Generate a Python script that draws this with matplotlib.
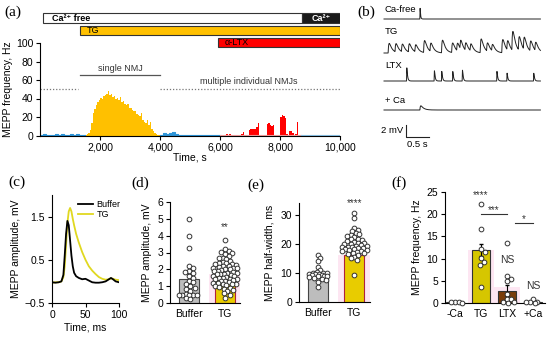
import numpy as np
import matplotlib
matplotlib.use("Agg")
import matplotlib.pyplot as plt

plt.rcParams["font.family"] = ["Liberation Sans", "DejaVu Sans"]
plt.rcParams["axes.linewidth"] = 0.8

# ---------- data ----------
# (a) MEPP frequency over time
t_base = [0, 100, 200, 300, 400, 500, 600, 700, 800, 900, 1000, 1100, 1200, 1300, 1400,
          1500, 4000, 4100, 4200, 4300, 4400, 4500, 4600, 4700, 4800, 4900, 5000, 5100,
          5200, 5300, 5400, 5500, 5600, 5700, 5800, 5900, 6000]
f_base = [0.8, 1.2, 0.6, 1.0, 0.9, 1.3, 0.7, 1.1, 0.8, 0.6, 1.4, 0.9, 1.2, 0.7, 0.5,
          0.3, 1.0, 3.0, 1.5, 2.5, 3.5, 2.0, 0.8, 0.5, 0.3, 0.8, 0.3, 0.2,
          0.3, 0.2, 0.4, 0.2, 0.3, 0.5, 0.2, 0.3, 0.2]
t_late = [8700, 8800, 8900, 9000, 9100, 9200, 9300, 9400, 9500, 9600, 9700, 9800, 9900, 10000]
f_late = [0.3, 0.2, 0.4, 0.2, 0.3, 0.2, 0.5, 0.2, 0.3, 0.2, 0.4, 0.2, 0.3, 0.2]

t_tg = [1450, 1500, 1550, 1600, 1650, 1700, 1750, 1800, 1850, 1900, 1950, 2000, 2050,
        2100, 2150, 2200, 2250, 2300, 2350, 2400, 2450, 2500, 2550, 2600, 2650, 2700,
        2750, 2800, 2850, 2900, 2950, 3000, 3050, 3100, 3150, 3200, 3250, 3300, 3350,
        3400, 3450, 3500, 3550, 3600, 3650, 3700, 3750, 3800, 3850, 3900, 3950, 4000]
f_tg = [0.3, 0.8, 1.5, 3, 6, 14, 24, 29, 33, 36, 38, 41, 40,
        43, 44, 45, 48, 44, 45, 42, 43, 40, 41, 38, 42, 36,
        37, 34, 33, 34, 30, 30, 28, 27, 26, 23, 22, 21, 24,
        17, 15, 14, 17, 11, 15, 7, 5, 3, 2, 1, 0.5, 0]

t_ltx = [6000, 6050, 6100, 6150, 6200, 6250, 6300, 6350, 6400, 6450, 6500, 6550, 6600,
         6650, 6700, 6750, 6800, 6850, 6900, 6950, 7000, 7050, 7100, 7150, 7200, 7250,
         7300, 7350, 7400, 7450, 7500, 7550, 7600, 7650, 7700, 7750, 7800, 7850, 7900,
         7950, 8000, 8050, 8100, 8150, 8200, 8250, 8300, 8350, 8400, 8450, 8500, 8550,
         8600, 8650, 8700]
f_ltx = [0.2, 0.3, 0.8, 1.0, 1.2, 1.0, 1.1, 1.0, 0.5, 0.3, 0.2, 0.2, 0.3,
         0.5, 1.5, 3.5, 1.0, 0.5, 1.0, 5.5, 6.5, 6.5, 7.0, 6.5, 9.0, 13.5,
         0.8, 0.5, 0.4, 0.5, 0.8, 12.0, 13.0, 11.0, 10.5, 11.0, 1.0, 0.5, 0.5,
         1.0, 20.0, 22.0, 21.0, 19.0, 1.5, 0.8, 4.5, 4.8, 3.0, 0.8, 1.5, 14.5,
         1.0, 0.5, 0.3]

# condition bars: (start, end)
cond_ca_free = (80, 8730)
cond_ca = (8730, 10000)
cond_tg = (1330, 10000)
cond_ltx = (5930, 10000)

# (b) example traces: event times (s) and amplitudes (mV)
cafree_ev = [0.78]
cafree_amp = [1.8]
tg_ev = [0.09, 0.24, 0.38, 0.53, 0.67, 0.86, 1.0, 1.25, 1.47, 1.58, 1.65, 1.76, 1.87,
         2.09, 2.23, 2.34, 2.56, 2.67, 2.78, 2.92, 3.03, 3.17, 3.28]
tg_amp = [1.6, 1.4, 1.3, 1.4, 1.2, 2.0, 1.4, 2.1, 1.6, 1.3, 1.5, 1.3, 1.2,
          2.3, 1.4, 1.1, 2.2, 1.6, 3.2, 2.3, 2.1, 1.7, 1.4]
ltx_ev = [0.49, 1.09, 1.25, 1.49, 1.70, 2.45, 2.67, 3.25]
ltx_amp = [2.2, 1.7, 1.6, 1.6, 1.8, 1.6, 1.3, 1.3]
ca_ev = [0.78]
ca_amp = [0.7]

# (c) averaged MEPP waveforms
c_time = [0, 5, 10, 14, 17, 19, 21, 23, 25, 27, 29, 31, 33, 36, 40, 45, 50, 55, 60,
          65, 70, 75, 80, 85, 88, 91, 95, 100]
c_buffer = [-0.02, -0.03, -0.02, 0.0, 0.15, 0.6, 1.1, 1.4, 1.3, 0.95, 0.6, 0.35, 0.2, 0.12,
            0.08, 0.05, 0.06, 0.02, -0.02, -0.03, -0.03, -0.02, 0.0, 0.05, 0.08, 0.05, 0.0, -0.02]
c_tg = [-0.03, -0.02, -0.02, 0.0, 0.1, 0.35, 0.85, 1.35, 1.62, 1.7, 1.62, 1.45, 1.3, 1.1,
        0.9, 0.68, 0.5, 0.35, 0.25, 0.17, 0.1, 0.06, 0.04, 0.05, 0.07, 0.06, 0.04, 0.03]

# (d) MEPP amplitude, mV
d_groups = ["Buffer", "TG"]
d_mean = [1.45, 1.7]
d_err = [0.25, 0.08]
d_buffer = [5.0, 4.0, 3.25, 2.2, 2.1, 1.9, 1.85, 1.8, 1.6, 1.5, 1.3, 1.25, 1.1, 1.0, 0.9,
            0.85, 0.7, 0.55, 0.5, 0.5, 0.5, 0.5, 0.45, 0.3, 0.25]
d_tg = [3.75, 3.2, 3.1, 3.05, 3.0, 2.9, 2.8, 2.7, 2.65, 2.6, 2.5, 2.45, 2.4, 2.35, 2.3,
        2.3, 2.25, 2.2, 2.2, 2.15, 2.1, 2.1, 2.05, 2.0, 2.0, 1.95, 1.9, 1.9, 1.85, 1.8,
        1.8, 1.75, 1.7, 1.7, 1.65, 1.6, 1.6, 1.55, 1.5, 1.5, 1.45, 1.4, 1.4, 1.35, 1.3,
        1.3, 1.25, 1.2, 1.2, 1.15, 1.1, 1.1, 1.05, 1.0, 0.95, 0.9, 0.85, 0.8, 0.7, 0.6,
        0.5, 0.3]

# (e) MEPP half-width, ms
e_mean = [9.4, 16.0]
e_err = [0.6, 0.5]
e_buffer = [16.3, 15.2, 14.0, 12.0, 11.0, 10.3, 10.1, 10.0, 9.8, 9.7, 9.6, 9.5, 9.4, 9.2,
            9.1, 9.0, 8.8, 8.6, 8.3, 8.0, 7.5, 7.0, 5.0]
e_tg = [30.6, 28.9, 25.3, 24.8, 24.3, 23.8, 23.5, 23.0, 22.6, 22.2, 21.8, 21.5, 21.2,
        21.0, 20.7, 20.4, 20.2, 20.0, 19.8, 19.6, 19.4, 19.2, 19.0, 18.9, 18.8, 18.6,
        18.5, 18.3, 18.2, 18.0, 17.8, 17.6, 17.5, 17.3, 17.0, 16.8, 16.5, 16.0, 15.5,
        15.0, 14.5, 9.3]

# (f) MEPP frequency, Hz
f_groups = ["-Ca", "TG", "LTX", "+Ca"]
f_mean = [0.2, 12.0, 2.8, 0.2]
f_err = [0.05, 1.4, 1.2, 0.1]
f_pts = [[0.3, 0.2, 0.2, 0.1],
         [22.3, 16.6, 12.2, 11.5, 10.2, 9.3, 8.6, 3.5],
         [13.5, 6.0, 5.5, 5.0, 2.0, 1.0, 0.8, 0.3, 0.2, 0.1],
         [1.0, 0.3, 0.2, 0.2, 0.1]]

# ---------- helpers ----------
W, H = 550, 338
fig = plt.figure(figsize=(W / 100, H / 100), dpi=100)


def place(l, t, r, b):
    return fig.add_axes([l / W, 1 - b / H, (r - l) / W, (b - t) / H])


def style(ax):
    ax.spines["top"].set_visible(False)
    ax.spines["right"].set_visible(False)
    ax.tick_params(labelsize=7.5, length=3, width=0.8, pad=2)


def swarm(vals, center, xpx, ypx, d, maxw):
    # pixel-space beeswarm, limited to +-maxw pixels around the centre
    placed, out = [], []
    offs = [0.0]
    k = 1
    while k * d / 3 <= maxw:
        offs += [k * d / 3, -k * d / 3]
        k += 1
    for v in vals:
        y = v * ypx
        best, best_gap = 0.0, -1
        for off in offs:
            gap = min([np.hypot(off - a, y - b) for a, b in placed] or [99])
            if gap >= d:
                best = off
                break
            if gap > best_gap:
                best, best_gap = off, gap
        placed.append((best, y))
        out.append(center + best / xpx)
    return out


def trace(t, ev, amp, tr, td):
    y = np.zeros_like(t)
    tp = tr * td / (td - tr) * np.log(td / tr)
    norm = np.exp(-tp / td) - np.exp(-tp / tr)
    for e, a in zip(ev, amp):
        s = np.clip(t - e, 0, None)
        y += a * (np.exp(-s / td) - np.exp(-s / tr)) / norm
    return y


def dots(ax, xs, vals):
    ax.plot(xs, vals, "o", ms=3.4, mfc="white", mec="#333333", mew=0.7, zorder=3,
            clip_on=False)


label_font = dict(family="Liberation Serif", fontsize=11)

# ---------- (a) ----------
ax = place(40.4, 43, 340, 135.5)
style(ax)
ax.fill_between(t_base, f_base, step="post", color="#2e95d8", lw=0)
ax.step(t_base[:16], f_base[:16], where="post", color="#2e95d8", lw=0.8)
ax.step(t_base[16:], f_base[16:], where="post", color="#2e95d8", lw=0.8)
ax.plot([6000, 8700], [0.3, 0.3], color="#f4a0a0", lw=0.8)
ax.step(t_late, f_late, where="post", color="#8cc4e8", lw=0.8)
ax.fill_between(t_tg, f_tg, step="post", color="#FFC000", lw=0)
ax.fill_between(t_ltx, f_ltx, step="post", color="#FF0000", lw=0)
ax.plot([0, 1250], [50, 50], ls=(0, (1, 1.5)), color="#777777", lw=0.9)
ax.plot([4000, 10000], [50, 50], ls=(0, (1, 1.5)), color="#777777", lw=0.9)
ax.plot([1330, 4000], [65, 65], color="#555555", lw=0.9)
ax.text(2665, 68, "single NMJ", ha="center", va="bottom", fontsize=6.5, color="#333333")
ax.text(6950, 53, "multiple individual NMJs", ha="center", va="bottom", fontsize=6.5,
        color="#333333")
ax.set_xlim(0, 10000)
ax.set_ylim(0, 100)
ax.set_xticks([2000, 4000, 6000, 8000, 10000])
ax.set_xticklabels(["2,000", "4,000", "6,000", "8,000", "10,000"])
ax.set_yticks([0, 20, 40, 60, 80, 100])
ax.set_ylabel("MEPP frequency, Hz", fontsize=7.5, labelpad=2)
ax.set_xlabel("Time, s", fontsize=7.5, labelpad=0)

axb = place(40.4, 10, 340, 50)
axb.set_xlim(0, 10000)
axb.set_ylim(50, 10)
axb.axis("off")
axb.barh(18, cond_ca_free[1] - cond_ca_free[0], left=cond_ca_free[0], height=9.5,
         color="white", edgecolor="#333333", lw=0.8)
axb.barh(18, cond_ca[1] - cond_ca[0], left=cond_ca[0], height=9.5,
         color="#1a1a1a", edgecolor="#333333", lw=0.8)
axb.barh(30.5, cond_tg[1] - cond_tg[0], left=cond_tg[0], height=9,
         color="#FFC000", edgecolor="#333333", lw=0.8)
axb.barh(42.5, cond_ltx[1] - cond_ltx[0], left=cond_ltx[0], height=9,
         color="#FF0000", edgecolor="#333333", lw=0.8)
axb.text(400, 18.3, "Ca²⁺ free", va="center", fontsize=6.5, fontweight="bold")
axb.text(9365, 18.3, "Ca²⁺", va="center", ha="center", fontsize=6.5, fontweight="bold",
         color="white")
axb.text(1550, 30.8, "TG", va="center", fontsize=6.5)
axb.text(6150, 42.8, "α-LTX", va="center", fontsize=6.5)
fig.text(4 / W, 1 - 12 / H, "(a)", va="center", **label_font)

# ---------- (b) ----------
ax = place(370, 0, 550, 150)
ax.set_xlim(-14 / 46, 166 / 46)
ax.set_ylim(-25, 0)
ax.axis("off")
tt = np.linspace(0, 3.4, 1500)
rows = [("Ca-free", cafree_ev, cafree_amp, 0.002, 0.01, -19 / 6, -10 / 6),
        ("TG", tg_ev, tg_amp, 0.012, 0.06, -53 / 6, -32 / 6),
        ("LTX", ltx_ev, ltx_amp, 0.003, 0.015, -81 / 6, -65 / 6),
        ("+ Ca", ca_ev, ca_amp, 0.01, 0.06, -110 / 6, -100 / 6)]
for name, ev, amp, tr, td, base, ly in rows:
    ax.plot(tt, base + trace(tt, ev, amp, tr, td), color="#222222", lw=0.7)
    ax.text(0.02, ly, name, fontsize=6.8, va="center")
ax.plot([0.478, 0.478, 0.978], [-20.83, -22.83, -22.83], color="#222222", lw=0.8)
ax.text(0.42, -21.8, "2 mV", ha="right", va="center", fontsize=6.8)
ax.text(0.73, -23.4, "0.5 s", ha="center", va="top", fontsize=6.8)
fig.text(357 / W, 1 - 12 / H, "(b)", va="center", **label_font)

# ---------- (c) ----------
ax = place(52, 195, 119, 303)
style(ax)
ax.plot(c_time, c_tg, color="#e0d820", lw=1.3, label="TG", zorder=2)
ax.plot(c_time, c_buffer, color="black", lw=1.3, label="Buffer", zorder=3)
ax.set_xlim(0, 100)
ax.set_ylim(-0.5, 2.0)
ax.set_xticks([0, 50, 100])
ax.set_yticks([-0.5, 0.5, 1.5])
ax.set_ylabel("MEPP amplitude, mV", fontsize=7.5, labelpad=3)
ax.set_xlabel("Time, ms", fontsize=7.5, labelpad=2)
h, l = ax.get_legend_handles_labels()
ax.legend(h[::-1], l[::-1], loc="upper right", bbox_to_anchor=(1.1, 1.0), frameon=False,
          fontsize=6.5, handlelength=1.6, handletextpad=0.4, labelspacing=0.1,
          borderaxespad=0.2)
fig.text(8 / W, 1 - 182 / H, "(c)", va="center", **label_font)

# ---------- (d) ----------
ax = place(170, 202, 240, 303)
style(ax)
ax.bar([1], [d_mean[1]], width=0.9, color="#fde6f2", zorder=0)
ax.bar([0, 1], d_mean, width=0.55, color=["#bdbdbd", "#e8cc00"],
       edgecolor=["#444444", "#b0203c"], lw=0.8, zorder=1)
ax.errorbar([0, 1], d_mean, yerr=d_err, fmt="none", ecolor="black", elinewidth=0.8,
            capsize=1.5, zorder=2)
dots(ax, swarm(d_buffer, 0, 36, 16.8, 4.2, 11), d_buffer)
dots(ax, swarm(d_tg, 1, 36, 16.8, 3.6, 12), d_tg)
ax.text(1, 4.35, "**", ha="center", fontsize=7, color="#333333")
ax.set_xlim(-0.53, 1.42)
ax.set_ylim(0, 6)
ax.set_yticks(range(7))
ax.set_xticks([0, 1])
ax.set_xticklabels(d_groups)
ax.tick_params(axis="x", length=0, pad=4)
ax.set_ylabel("MEPP amplitude, mV", fontsize=7.5, labelpad=4)
fig.text(131 / W, 1 - 183 / H, "(d)", va="center", **label_font)

# ---------- (e) ----------
ax = place(299, 203, 370, 302)
style(ax)
ax.bar([1], [e_mean[1]], width=0.9, color="#fde6f2", zorder=0)
ax.bar([0, 1], e_mean, width=0.55, color=["#bdbdbd", "#e8cc00"],
       edgecolor=["#444444", "#b0203c"], lw=0.8, zorder=1)
ax.errorbar([0, 1], e_mean, yerr=e_err, fmt="none", ecolor="black", elinewidth=0.8,
            capsize=1.5, zorder=2)
dots(ax, swarm(e_buffer, 0, 36.5, 2.9, 3.8, 9), e_buffer)
dots(ax, swarm(e_tg, 1, 36.5, 2.9, 3.8, 13), e_tg)
ax.text(1, 33.0, "****", ha="center", fontsize=7, color="#333333")
ax.set_xlim(-0.52, 1.43)
ax.set_ylim(0, 34)
ax.set_yticks([0, 10, 20, 30])
ax.set_xticks([0, 1])
ax.set_xticklabels(d_groups)
ax.tick_params(axis="x", length=0, pad=4)
ax.set_ylabel("MEPP half-width, ms", fontsize=7.5, labelpad=4)
fig.text(247 / W, 1 - 185 / H, "(e)", va="center", **label_font)

# ---------- (f) ----------
ax = place(445, 192, 545, 303)
style(ax)
ax.bar([1, 2], [f_mean[1], f_mean[2] + 0.8], width=1.0, color="#fde6f2", zorder=0)
ax.bar(range(4), f_mean, width=0.72, color=["#cccccc", "#d6c600", "#7a3c0a", "#cccccc"],
       edgecolor="#333333", lw=0.8, zorder=1)
ax.errorbar(range(4), f_mean, yerr=f_err, fmt="none", ecolor="black", elinewidth=0.8,
            capsize=1.5, zorder=2)
for i, vals in enumerate(f_pts):
    dots(ax, swarm(vals, i, 26, 4.46, 4.4, 8), vals)
ax.text(1, 23.6, "****", ha="center", fontsize=7, color="#333333")
ax.plot([1.0, 2.0], [20, 20], color="#333333", lw=0.8)
ax.text(1.5, 20.3, "***", ha="center", fontsize=7, color="#333333")
ax.plot([2.3, 3.0], [18, 18], color="#333333", lw=0.8)
ax.text(2.65, 18.3, "*", ha="center", fontsize=7, color="#333333")
ax.text(2, 9.0, "NS", ha="center", fontsize=7.5, color="#333333")
ax.text(3, 3.2, "NS", ha="center", fontsize=7.5, color="#333333")
ax.set_xlim(-0.385, 3.46)
ax.set_ylim(0, 25)
ax.set_yticks([0, 5, 10, 15, 20, 25])
ax.set_xticks(range(4))
ax.set_xticklabels(f_groups)
ax.tick_params(axis="x", length=0, pad=4)
ax.set_ylabel("MEPP frequency, Hz", fontsize=7.5, labelpad=3)
fig.text(391 / W, 1 - 183 / H, "(f)", va="center", **label_font)

fig.savefig("out.png", dpi=100)
